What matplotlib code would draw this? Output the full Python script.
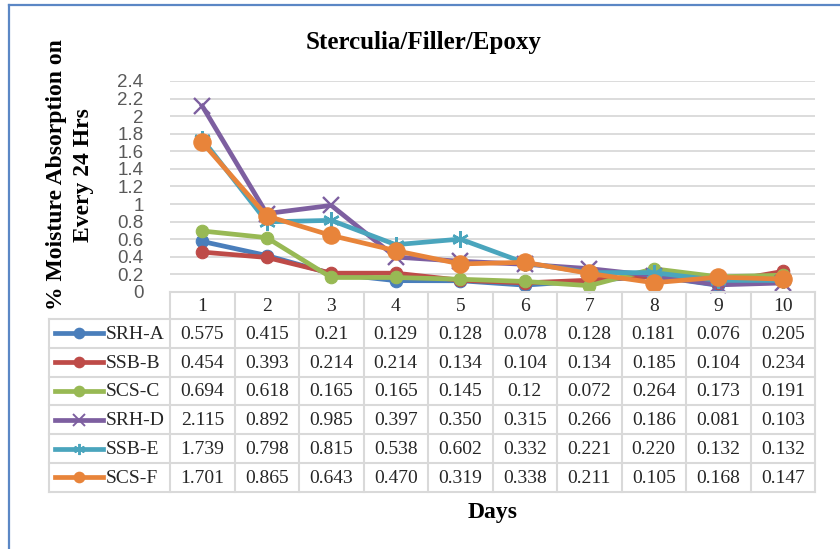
import numpy as np
import matplotlib.pyplot as plt
from matplotlib.lines import Line2D

# DATA
days = [1, 2, 3, 4, 5, 6, 7, 8, 9, 10]
series_names = ["SRH-A", "SSB-B", "SCS-C", "SRH-D", "SSB-E", "SCS-F"]
srh_a = [0.575, 0.415, 0.21, 0.129, 0.128, 0.078, 0.128, 0.181, 0.076, 0.205]
ssb_b = [0.454, 0.393, 0.214, 0.214, 0.134, 0.104, 0.134, 0.185, 0.104, 0.234]
scs_c = [0.694, 0.618, 0.165, 0.165, 0.145, 0.12, 0.072, 0.264, 0.173, 0.191]
srh_d = [2.115, 0.892, 0.985, 0.397, 0.350, 0.315, 0.266, 0.186, 0.081, 0.103]
ssb_e = [1.739, 0.798, 0.815, 0.538, 0.602, 0.332, 0.221, 0.220, 0.132, 0.132]
scs_f = [1.701, 0.865, 0.643, 0.470, 0.319, 0.338, 0.211, 0.105, 0.168, 0.147]
# text as printed in the data table
table_text = [
    ["0.575", "0.415", "0.21", "0.129", "0.128", "0.078", "0.128", "0.181", "0.076", "0.205"],
    ["0.454", "0.393", "0.214", "0.214", "0.134", "0.104", "0.134", "0.185", "0.104", "0.234"],
    ["0.694", "0.618", "0.165", "0.165", "0.145", "0.12", "0.072", "0.264", "0.173", "0.191"],
    ["2.115", "0.892", "0.985", "0.397", "0.350", "0.315", "0.266", "0.186", "0.081", "0.103"],
    ["1.739", "0.798", "0.815", "0.538", "0.602", "0.332", "0.221", "0.220", "0.132", "0.132"],
    ["1.701", "0.865", "0.643", "0.470", "0.319", "0.338", "0.211", "0.105", "0.168", "0.147"],
]
all_series = [srh_a, ssb_b, scs_c, srh_d, ssb_e, scs_f]

colors = ["#4A7EBB", "#BE4B48", "#98B954", "#7D5FA0", "#4AA5BD", "#E8843A"]
markers = ["o", "o", "o", "x", (6, 2, 0), "o"]
msizes = [9, 9, 9, 12, 12, 12.5]

serif = "Liberation Serif"
W, H = 840, 549
fig = plt.figure(figsize=(W / 100, H / 100), dpi=100)

# layout (pixels)
pl, pr, pt, pb = 170, 815, 81, 292
leg_l = 49
head_h = 27
row_h = 28.8
col_w = (pr - pl) / len(days)

ax = fig.add_axes([pl / W, 1 - pb / H, (pr - pl) / W, (pb - pt) / H])
ax.set_xlim(0.5, 10.5)
ax.set_ylim(0, 2.4)
yt = np.round(np.arange(0, 2.41, 0.2), 1)
ax.set_yticks(yt)
ax.set_yticklabels([f"{v:g}" for v in yt], family="Liberation Sans", fontsize=13.5, color="#595959")
ax.set_xticks([])
ax.tick_params(left=False, pad=15.5)
ax.yaxis.grid(True, color="#D9D9D9", lw=1.3)
ax.set_axisbelow(True)
for s in ax.spines.values():
    s.set_visible(False)

for vals, c, m, ms in zip(all_series, colors, markers, msizes):
    mew = 1.7 if m != "o" else 0.8
    ax.plot(days, vals, color=c, lw=3.4, marker=m, ms=ms, mew=mew, clip_on=False)

# data table drawn in pixel coords
tab = fig.add_axes([0, 0, 1, 1])
tab.set_xlim(0, W)
tab.set_ylim(H, 0)
tab.axis("off")
gc = "#D9D9D9"
tbot = pb + head_h + row_h * len(series_names)
tab.plot([pl, pr], [pb, pb], color=gc, lw=1.5)
for i in range(len(series_names) + 1):
    y = pb + head_h + i * row_h
    tab.plot([leg_l, pr], [y, y], color=gc, lw=1.5)
tab.plot([leg_l, leg_l], [pb + head_h, tbot], color=gc, lw=1.5)
for j in range(len(days) + 1):
    x = pl + j * col_w
    tab.plot([x, x], [pb, tbot], color=gc, lw=1.5)

for j, d in enumerate(days):
    tab.text(pl + (j + 0.5) * col_w, pb + head_h / 2 + 1, str(d), ha="center", va="center",
             family=serif, fontsize=14, color="#262626")

for i, name in enumerate(series_names):
    yc = pb + head_h + (i + 0.5) * row_h
    tab.add_line(Line2D([55, 103], [yc, yc], color=colors[i], lw=3.4))
    tab.add_line(Line2D([79], [yc], color=colors[i], marker=markers[i],
                        ms=7 if markers[i] == "o" else 8, mew=1.4, lw=0))
    tab.text(106, yc + 1, name, ha="left", va="center", family=serif, fontsize=14, color="#262626")
    for j in range(len(days)):
        tab.text(pl + (j + 0.5) * col_w, yc + 1, table_text[i][j], ha="center", va="center",
                 family=serif, fontsize=14, color="#262626")

# frame
frame_c = "#5B87C5"
tab.plot([9, 9], [5, H], color=frame_c, lw=1.6)
tab.plot([9, W], [5, 5], color=frame_c, lw=1.6)

fig.text(424 / W, 1 - 49 / H, "Sterculia/Filler/Epoxy", ha="center", va="baseline",
         family=serif, fontweight="bold", fontsize=18)
fig.text(70 / W, 1 - 175 / H, "% Moisture Absorption on\nEvery 24 Hrs", ha="center", va="center",
         rotation=90, family=serif, fontweight="bold", fontsize=17, linespacing=1.32)
fig.text(493 / W, 1 - 518 / H, "Days", ha="center", va="baseline",
         family=serif, fontweight="bold", fontsize=17)

fig.savefig("out.png", dpi=100)
